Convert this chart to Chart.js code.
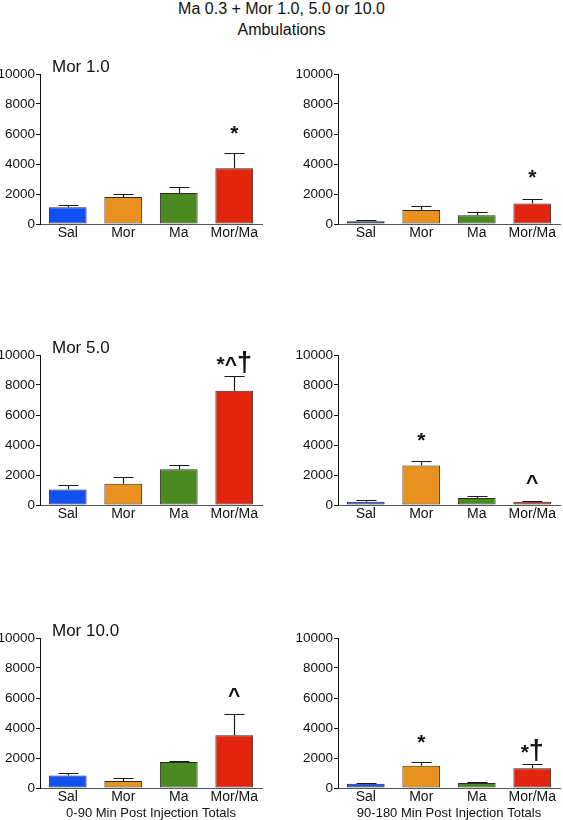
<!DOCTYPE html>
<html>
<head>
<meta charset="utf-8">
<script src="https://cdn.jsdelivr.net/npm/chart.js@4.4.0/dist/chart.umd.min.js"></script>
<style>
  body { margin: 0; background: #fff; width: 563px; height: 820px; position: relative; overflow: hidden;
         font-family: "Liberation Sans", Arial, sans-serif; }
  .panel { position: absolute; }
  #title { position: absolute; left: 0; top: -2px; width: 563px; text-align: center;
           font-size: 16px; line-height: 21px; color: #111; }
</style>
</head>
<body>
<div id="title">Ma 0.3 + Mor 1.0, 5.0 or 10.0<br>Ambulations</div>

<script>
// categories and colours
const categories = ['Sal', 'Mor', 'Ma', 'Mor/Ma'];
const barColors = ['#1150f2', '#ea921f', '#4a8a1f', '#e2250c'];

// y axis
const yMin = 0;
const yMax = 10000;
const yStep = 2000;

// means (left: 0-90 min, right: 90-180 min)
const mor1Early = [1120, 1800, 2060, 3720];
const mor1Late = [180, 940, 580, 1370];
const mor5Early = [1040, 1420, 2380, 7620];
const mor5Late = [220, 2640, 470, 220];
const mor10Early = [840, 470, 1730, 3510];
const mor10Late = [290, 1490, 330, 1310];

// SEM (upper error only)
const mor1EarlyErr = [180, 220, 380, 1010];
const mor1LateErr = [110, 250, 250, 330];
const mor5EarlyErr = [290, 470, 290, 980];
const mor5LateErr = [90, 270, 130, 70];
const mor10EarlyErr = [140, 200, 90, 1420];
const mor10LateErr = [70, 240, 90, 270];

// significance marks and the value they are centred on
const mor1EarlyMarks = ['', '', '', '*'];
const mor1EarlyMarkAt = [0, 0, 0, 6100];
const mor1LateMarks = ['', '', '', '*'];
const mor1LateMarkAt = [0, 0, 0, 3150];
const mor5EarlyMarks = ['', '', '', '*^†'];
const mor5EarlyMarkAt = [0, 0, 0, 9500];
const mor5LateMarks = ['', '*', '', '^'];
const mor5LateMarkAt = [0, 4330, 0, 1550];
const mor10EarlyMarks = ['', '', '', '^'];
const mor10EarlyMarkAt = [0, 0, 0, 6200];
const mor10LateMarks = ['', '*', '', '*†'];
const mor10LateMarkAt = [0, 3090, 0, 2500];

const panelTitles = ['Mor 1.0', '', 'Mor 5.0', '', 'Mor 10.0', ''];
const xTitles = ['', '', '', '', '0-90 Min Post Injection Totals', '90-180 Min Post Injection Totals'];

const panels = [
  { values: mor1Early, errors: mor1EarlyErr, marks: mor1EarlyMarks, markAt: mor1EarlyMarkAt },
  { values: mor1Late, errors: mor1LateErr, marks: mor1LateMarks, markAt: mor1LateMarkAt },
  { values: mor5Early, errors: mor5EarlyErr, marks: mor5EarlyMarks, markAt: mor5EarlyMarkAt },
  { values: mor5Late, errors: mor5LateErr, marks: mor5LateMarks, markAt: mor5LateMarkAt },
  { values: mor10Early, errors: mor10EarlyErr, marks: mor10EarlyMarks, markAt: mor10EarlyMarkAt },
  { values: mor10Late, errors: mor10LateErr, marks: mor10LateMarks, markAt: mor10LateMarkAt }
];

const FONT = '"Liberation Sans", Arial, sans-serif';
const rowTops = [50, 331, 614];

// draws a mark string; the dagger is drawn larger like in the original figure
function drawMark(ctx, text, cx, yc) {
  const parts = [...text].map(ch => ({ ch, font: (ch === '†' ? 'bold 27px ' : 'bold 21px ') + FONT }));
  let total = 0;
  let asc = 0;
  let desc = 0;
  parts.forEach(p => {
    ctx.font = p.font;
    const m = ctx.measureText(p.ch);
    p.w = m.width;
    total += m.width;
    asc = Math.max(asc, m.actualBoundingBoxAscent);
    desc = Math.max(desc, m.actualBoundingBoxDescent);
  });
  const yb = yc + (asc - desc) / 2;
  let x = cx - total / 2;
  ctx.textAlign = 'left';
  ctx.textBaseline = 'alphabetic';
  parts.forEach(p => {
    ctx.font = p.font;
    ctx.fillText(p.ch, x, yb);
    x += p.w;
  });
}

// error bars, marks and panel titles
const extrasPlugin = {
  id: 'extras',
  afterDatasetsDraw(chart, args, opts) {
    const { ctx, chartArea } = chart;
    const y = chart.scales.y;
    const meta = chart.getDatasetMeta(0);
    ctx.save();
    ctx.strokeStyle = '#1a1a1a';
    ctx.lineWidth = 1.2;
    opts.errors.forEach((e, i) => {
      const bar = meta.data[i];
      const top = Math.round(y.getPixelForValue(opts.values[i] + e)) + 0.5;
      const cx = Math.round(bar.x) + 0.5;
      ctx.beginPath();
      ctx.moveTo(cx, bar.y);
      ctx.lineTo(cx, top);
      ctx.moveTo(cx - 10, top);
      ctx.lineTo(cx + 10, top);
      ctx.stroke();
    });

    ctx.fillStyle = '#111';
    opts.marks.forEach((m, i) => {
      if (!m) return;
      drawMark(ctx, m, meta.data[i].x, y.getPixelForValue(opts.markAt[i]));
    });

    if (opts.title) {
      ctx.font = '17px ' + FONT;
      ctx.textAlign = 'left';
      ctx.textBaseline = 'middle';
      ctx.fillText(opts.title, chartArea.left + 12, chartArea.top - 7);
    }
    ctx.restore();
  }
};

panels.forEach((p, k) => {
  const row = Math.floor(k / 2);
  const col = k % 2;
  const bottomRow = row === 2;
  const xh = bottomRow ? 33 : 20;
  const div = document.createElement('div');
  div.className = 'panel';
  div.style.left = (col === 0 ? 0 : 290) + 'px';
  div.style.top = rowTops[row] + 'px';
  div.style.width = (col === 0 ? 275 : 273) + 'px';
  div.style.height = (24 + 150 + xh) + 'px';
  const canvas = document.createElement('canvas');
  div.appendChild(canvas);
  document.body.appendChild(div);

  new Chart(canvas, {
    type: 'bar',
    data: {
      labels: categories,
      datasets: [{
        data: p.values,
        backgroundColor: barColors,
        borderColor: '#2a2a2a',
        borderWidth: 1,
        borderSkipped: false,
        categoryPercentage: 1,
        barPercentage: 0.68
      }]
    },
    plugins: [extrasPlugin],
    options: {
      responsive: true,
      maintainAspectRatio: false,
      animation: false,
      layout: { padding: { top: 24, right: col === 0 ? 13 : 3, bottom: 0, left: 0 } },
      plugins: {
        legend: { display: false },
        tooltip: { enabled: false },
        extras: { values: p.values, errors: p.errors, marks: p.marks, markAt: p.markAt, title: panelTitles[k] }
      },
      scales: {
        x: {
          grid: { display: false, drawTicks: false },
          border: { display: true, color: '#555', width: 1 },
          ticks: { color: '#111', font: { size: 14, family: FONT }, padding: 1, maxRotation: 0, autoSkip: false },
          title: { display: bottomRow, text: xTitles[k], color: '#111', font: { size: 13, family: FONT }, padding: 0 },
          afterFit: (s) => { s.height = xh; }
        },
        y: {
          min: yMin,
          max: yMax,
          ticks: { stepSize: yStep, color: '#111', font: { size: 13.5, family: FONT }, padding: 1,
                   callback: (v) => String(v) },
          grid: { drawOnChartArea: false, drawTicks: true, tickLength: 4, color: '#111' },
          border: { display: true, color: '#111', width: 1 },
          afterFit: (s) => { s.width = col === 0 ? 40 : 48; }
        }
      }
    }
  });
});
</script>
</body>
</html>
